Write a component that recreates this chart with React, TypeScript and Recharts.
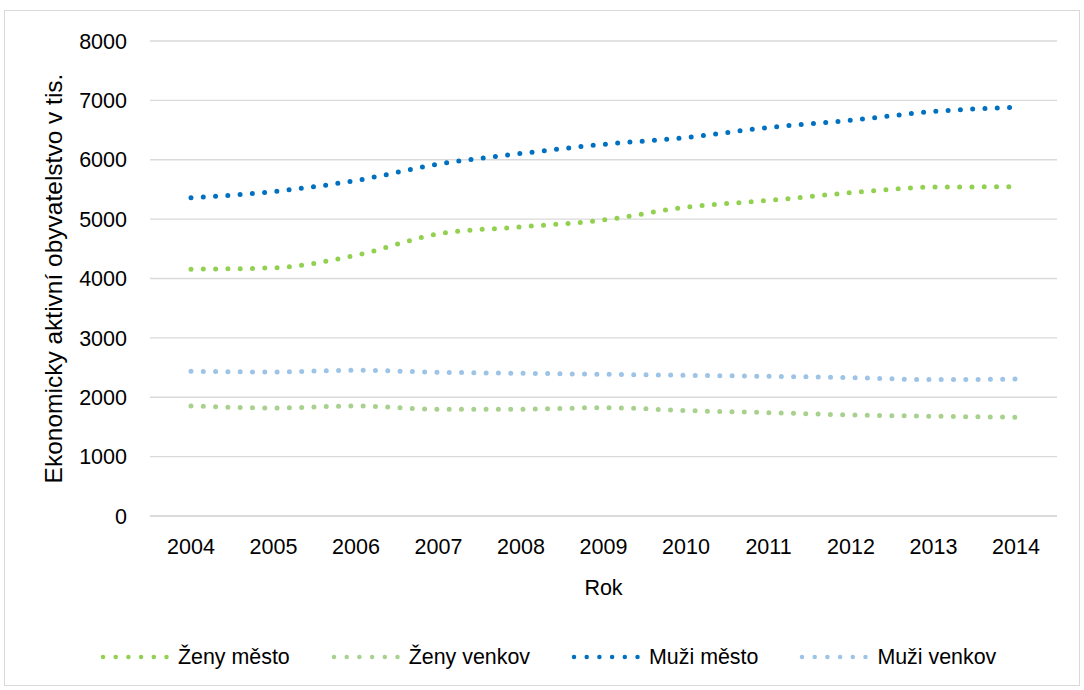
import React from 'react';
import { LineChart, Line, XAxis, YAxis, CartesianGrid, Legend, Label } from 'recharts';

const years = ['2004', '2005', '2006', '2007', '2008', '2009', '2010', '2011', '2012', '2013', '2014'];
const zenyMesto = [4157, 4180, 4392, 4751, 4869, 4985, 5202, 5315, 5445, 5539, 5545];
const zenyVenkov = [1854, 1820, 1854, 1798, 1798, 1825, 1775, 1741, 1702, 1680, 1663];
const muziMesto = [5360, 5465, 5651, 5926, 6106, 6260, 6375, 6544, 6665, 6813, 6886];
const muziVenkov = [2438, 2426, 2455, 2421, 2404, 2387, 2370, 2353, 2330, 2298, 2306];

const seriesKeys = ['zm', 'zv', 'mm', 'mv'];
const seriesNames = ['Ženy město', 'Ženy venkov', 'Muži město', 'Muži venkov'];
const seriesColors = ['#92D050', '#A9D18E', '#0070C0', '#9DC3E6'];
const yTicks = [0, 1000, 2000, 3000, 4000, 5000, 6000, 7000, 8000];
const yTitle = 'Ekonomicky aktivní obyvatelstvo v tis.';
const xTitle = 'Rok';

const data = years.map((year, i) => ({
  year,
  zm: zenyMesto[i],
  zv: zenyVenkov[i],
  mm: muziMesto[i],
  mv: muziVenkov[i],
}));

const FONT = '"Liberation Sans", Arial, sans-serif';

const renderLegend = () => {
  return (
    <div style={{ display: 'flex', alignItems: 'center', gap: 41, fontFamily: FONT, fontSize: 21.4, color: '#000', height: 24 }}>
      {seriesNames.map((name, i) => (
        <div key={name} style={{ display: 'flex', alignItems: 'center' }}>
          <svg width={70} height={10} style={{ display: 'block' }}>
            <line x1={3} y1={5} x2={67} y2={5} stroke={seriesColors[i]} strokeWidth={4.5} strokeLinecap="round" strokeDasharray="0 12.7" />
          </svg>
          <span style={{ marginLeft: 8, lineHeight: '24px', whiteSpace: 'nowrap' }}>{name}</span>
        </div>
      ))}
    </div>
  );
};

export default function App() {
  return (
    <div style={{ position: 'absolute', left: 0, top: 0, width: 1084, height: 690, background: '#fff' }}>
      <div style={{ position: 'absolute', left: 4, top: 10, width: 1076, height: 676, border: '1px solid #D9D9D9', boxSizing: 'border-box' }} />
      <div style={{ position: 'absolute', left: 0, top: 0 }}>
        <LineChart width={1084} height={690} data={data} margin={{ top: 41, right: 27, bottom: 70, left: 0 }}>
          <CartesianGrid vertical={false} stroke="#D9D9D9" strokeWidth={1.3} />
          <XAxis
            dataKey="year"
            padding={{ left: 41, right: 41 }}
            height={80}
            axisLine={{ stroke: '#D9D9D9', strokeWidth: 1.3 }}
            tickLine={false}
            tickSize={0}
            tickMargin={23}
            tick={{ fill: '#000', fontSize: 21.5, fontFamily: FONT }}
            interval={0}
          >
            <Label
              content={(p: any) => {
                const vb = p.viewBox;
                return (
                  <text x={vb.x + vb.width / 2} y={vb.y + 79} textAnchor="middle" fill="#000" fontSize={21.5} fontFamily={FONT}>
                    {xTitle}
                  </text>
                );
              }}
            />
          </XAxis>
          <YAxis
            width={150}
            domain={[0, 8000]}
            ticks={yTicks}
            axisLine={false}
            tickLine={false}
            tickSize={0}
            tickMargin={23}
            tick={{ fill: '#000', fontSize: 21.5, fontFamily: FONT }}
            interval={0}
          >
            <Label
              content={(p: any) => {
                const vb = p.viewBox;
                const cy = vb.y + vb.height / 2;
                return (
                  <text x={62} y={cy} transform={`rotate(-90 62 ${cy})`} textAnchor="middle" fill="#000" fontSize={24.5} fontFamily={FONT}>
                    {yTitle}
                  </text>
                );
              }}
            />
          </YAxis>
          <Legend
            content={renderLegend}
            wrapperStyle={{ position: 'absolute', left: 100, top: 645, width: 'auto', bottom: 'auto' }}
          />
          {seriesKeys.map((k, i) => (
            <Line
              key={k}
              dataKey={k}
              name={seriesNames[i]}
              type="monotone"
              stroke={seriesColors[i]}
              strokeWidth={5}
              strokeLinecap="round"
              strokeDasharray="0 12.3"
              dot={false}
              activeDot={false}
              isAnimationActive={false}
            />
          ))}
        </LineChart>
      </div>
    </div>
  );
}
